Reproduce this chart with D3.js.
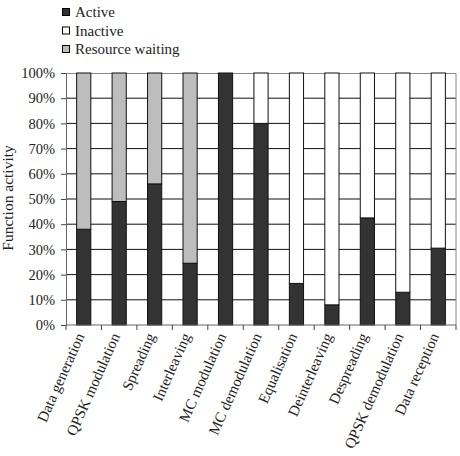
<!DOCTYPE html>
<html>
<head>
<meta charset="utf-8">
<script src="https://cdn.jsdelivr.net/npm/d3@7"></script>
<style>
body { margin: 0; background: #fff; }
text { font-family: "Liberation Serif", "DejaVu Serif", serif; fill: #222; }
</style>
</head>
<body>
<div id="plot"></div>
<script>
const categories = ["Data generation", "QPSK modulation", "Spreading", "Interleaving",
	"MC modulation", "MC demodulation", "Equalisation", "Deinterleaving",
	"Despreading", "QPSK demodulation", "Data reception"];
const active =   [38, 49, 56, 24.5, 100, 80, 16.5, 8, 42.5, 13, 30.5];
const inactive = [0, 0, 0, 0, 0, 20, 83.5, 92, 57.5, 87, 69.5];
const waiting =  [62, 51, 44, 75.5, 0, 0, 0, 0, 0, 0, 0];
const seriesNames = ["Active", "Inactive", "Resource waiting"];
const yTicks = [0, 10, 20, 30, 40, 50, 60, 70, 80, 90, 100];

const margin = {top: 73, right: 4, bottom: 131, left: 66},
width = 460 - margin.left - margin.right,
height = 456 - margin.top - margin.bottom;

const svg = d3.select("#plot")
.append("svg")
.attr("width", 460)
.attr("height", 456)
.append("g")
.attr("transform", `translate(${margin.left},${margin.top})`);

const data = categories.map((c, i) => ({
	cat: c, "Active": active[i], "Resource waiting": waiting[i], "Inactive": inactive[i]
}));

const color = d3.scaleOrdinal()
.domain(seriesNames)
.range(["#333333", "#ffffff", "#bdbdbd"]);

const x = d3.scaleBand()
.range([0, width])
.domain(categories)
.paddingInner(0.6)
.paddingOuter(0.3);

const y = d3.scaleLinear()
.domain([0, 100])
.range([height, 0]);

// horizontal gridlines
svg.append("g")
.selectAll("line")
.data(yTicks.slice(1, -1))
.join("line")
.attr("x1", 0)
.attr("x2", width)
.attr("y1", d => y(d))
.attr("y2", d => y(d))
.attr("stroke", "#111")
.attr("stroke-width", 1);

// plot border (top + right)
svg.append("path")
.attr("d", `M0,0.5H${width}V${height}`)
.attr("fill", "none")
.attr("stroke", "#888");

const stacked = d3.stack()
.keys(["Active", "Resource waiting", "Inactive"])
(data);

svg.append("g")
.selectAll("g")
.data(stacked)
.join("g")
.attr("fill", d => color(d.key))
.selectAll("rect")
.data(d => d.filter(v => v[1] > v[0]))
.join("rect")
.attr("x", d => x(d.data.cat))
.attr("y", d => y(d[1]))
.attr("width", x.bandwidth())
.attr("height", d => y(d[0]) - y(d[1]))
.attr("stroke", "#111")
.attr("stroke-width", 1);

// y axis
const yAxis = svg.append("g")
.call(d3.axisLeft(y).tickValues(yTicks).tickFormat(d => d + "%").tickSize(5).tickSizeOuter(0));
yAxis.select(".domain").attr("stroke", "#666");
yAxis.selectAll(".tick line").attr("stroke", "#444");
yAxis.selectAll("text").style("font-size", "14.5px").attr("x", -11);

// x axis: ticks at band boundaries
const xAxis = svg.append("g")
.attr("transform", `translate(0, ${height})`);
xAxis.append("line")
.attr("x1", 0).attr("x2", width)
.attr("stroke", "#666");
xAxis.selectAll(".bt")
.data(d3.range(categories.length + 1))
.join("line")
.attr("class", "bt")
.attr("x1", i => i * x.step())
.attr("x2", i => i * x.step())
.attr("y1", 0)
.attr("y2", 5)
.attr("stroke", "#444");
xAxis.selectAll(".lbl")
.data(categories)
.join("text")
.attr("class", "lbl")
.attr("transform", d => `translate(${x(d) + x.bandwidth() / 2 + 1},11)rotate(-66)`)
.style("text-anchor", "end")
.style("font-size", "15px")
.text(d => d);

// y label
svg.append("text")
.attr("transform", `translate(${-53},${height / 2 - 1})rotate(-90)`)
.style("text-anchor", "middle")
.style("font-size", "15.5px")
.text("Function activity");

// legend
const legend = d3.select("svg").append("g")
.attr("transform", "translate(62,7)");
const leg = legend.selectAll("g")
.data(seriesNames)
.join("g")
.attr("transform", (d, i) => `translate(0,${i * 18.5})`);
leg.append("rect")
.attr("x", 0.5).attr("y", 1.5)
.attr("width", 7).attr("height", 7)
.attr("fill", d => color(d))
.attr("stroke", "#000");
leg.append("text")
.attr("x", 13)
.attr("y", 5)
.attr("dy", "0.35em")
.style("font-size", "15px")
.text(d => d);
</script>
</body>
</html>
